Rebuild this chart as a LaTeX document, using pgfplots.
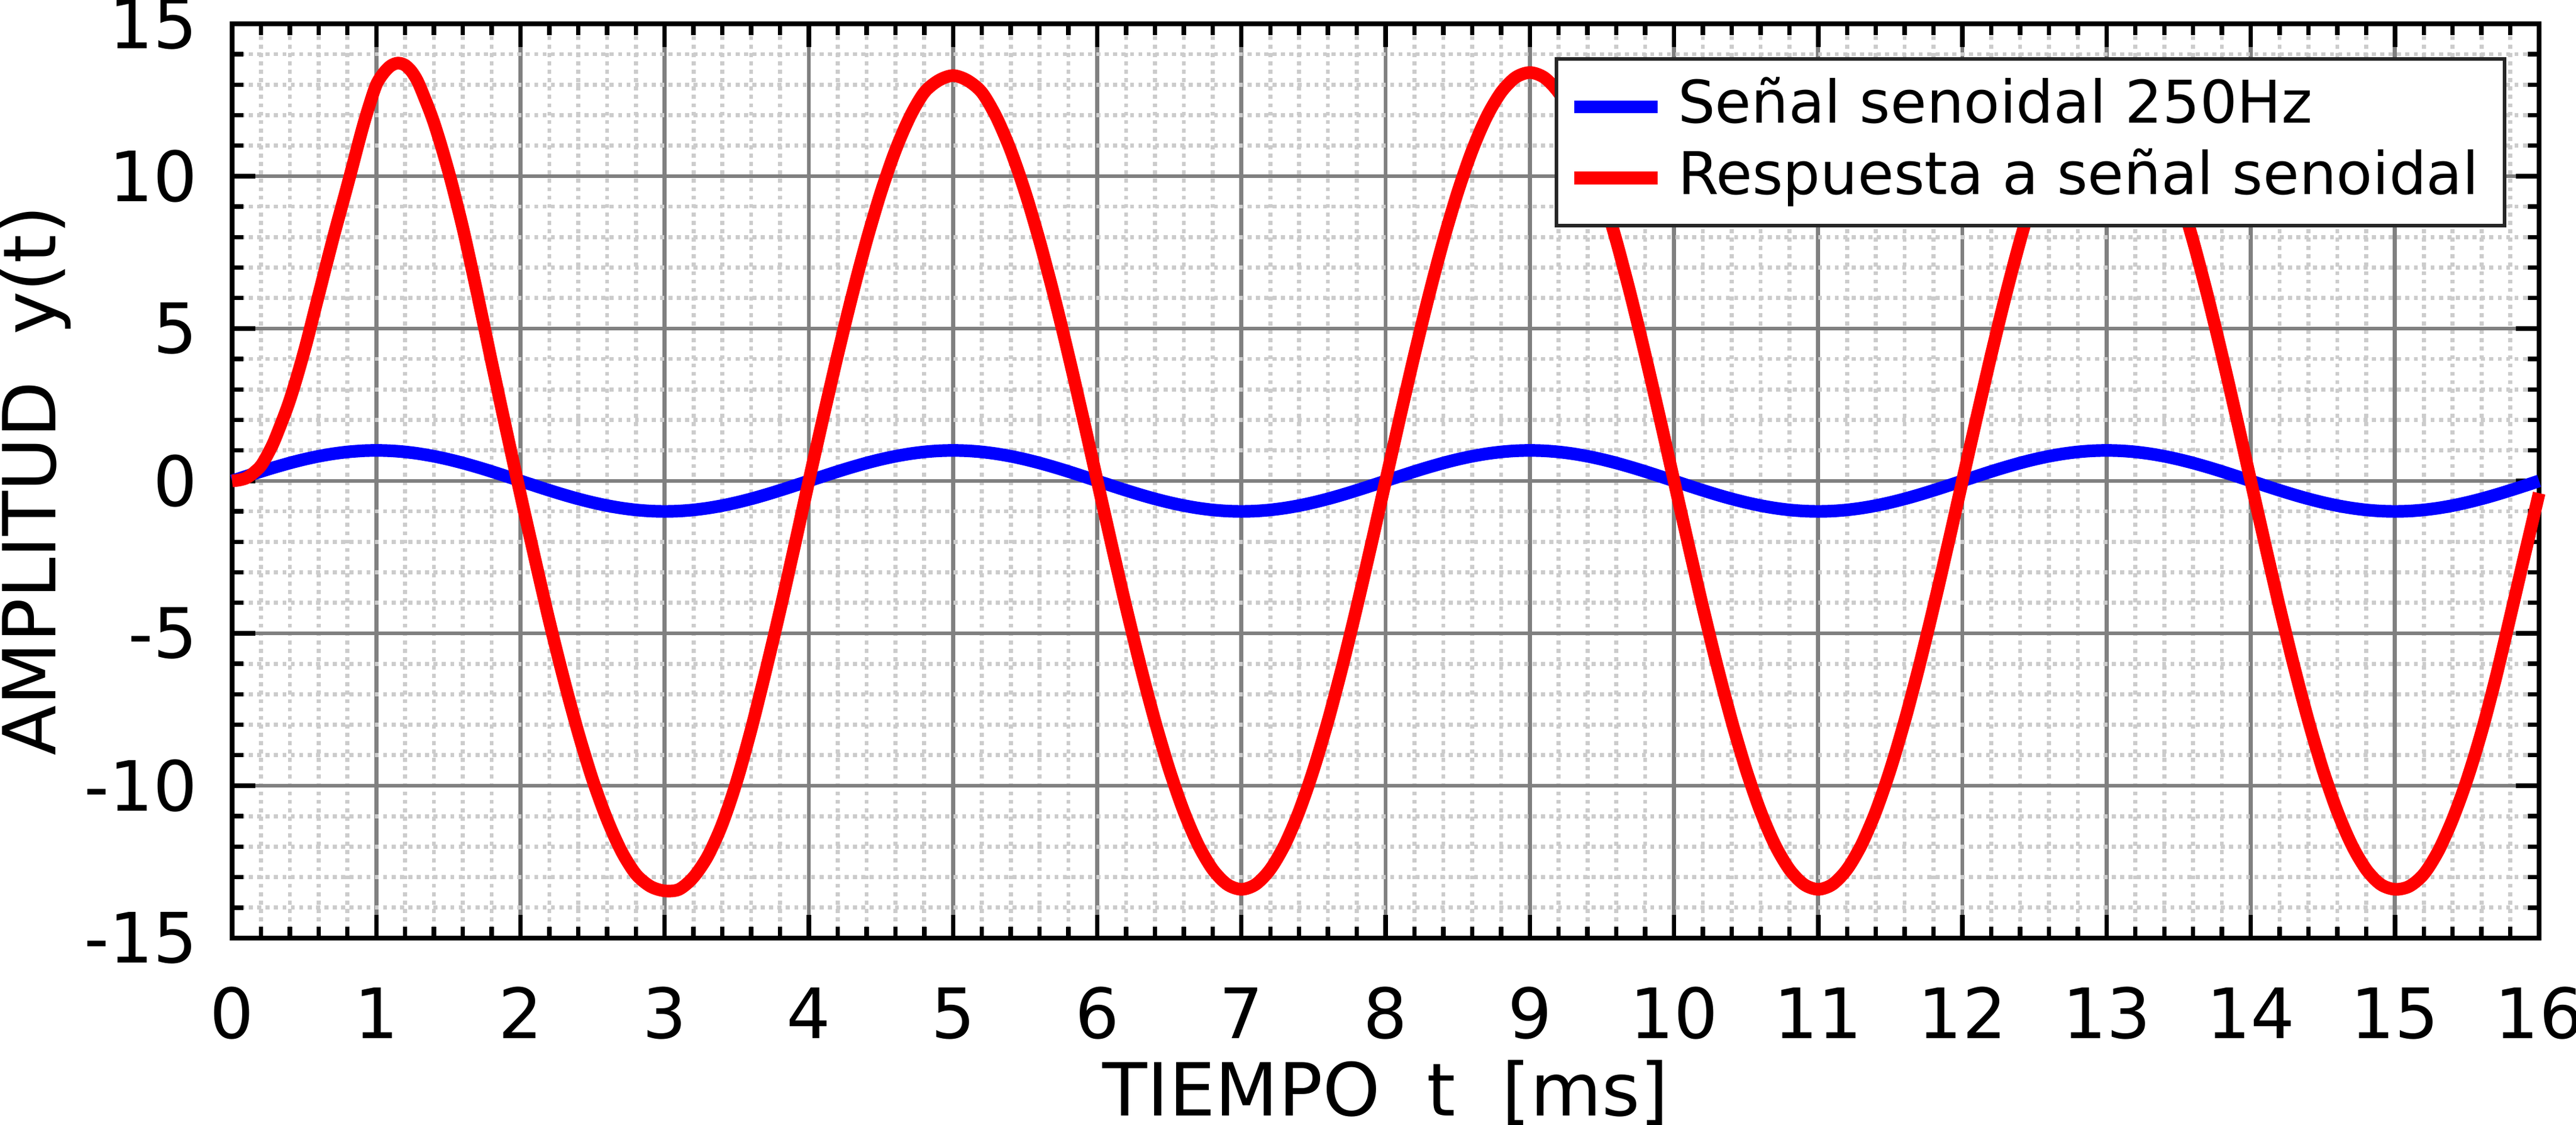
\documentclass[border=0pt]{standalone}
\usepackage{pgfplots}
\pgfplotsset{compat=1.18}
\usepackage{pgfplotstable}
\usepackage{fontspec}
\setmainfont{DejaVu Sans}

\pgfplotstableread{
t b r
0.00 0 0
0.05 0.0785 0.03
0.10 0.1564 0.10
0.15 0.2334 0.27
0.20 0.3090 0.50
0.25 0.3827 0.90
0.30 0.4540 1.40
0.40 0.5878 2.65
0.50 0.7071 4.25
0.60 0.8090 6.10
0.70 0.8910 7.95
0.80 0.9511 9.70
0.90 0.9877 11.50
0.95 0.9969 12.30
1.00 1 13.00
1.05 0.9969 13.38
1.10 0.9877 13.62
1.15 0.9724 13.71
1.20 0.9511 13.64
1.25 0.9239 13.40
1.30 0.8910 12.97
1.40 0.8090 11.75
1.50 0.7071 10.17
1.60 0.5878 8.30
1.70 0.4540 6.15
1.80 0.3090 3.90
1.90 0.1564 1.70
2.00 0 -0.45
2.10 -0.1564 -2.55
2.20 -0.3090 -4.60
2.30 -0.4540 -6.50
2.40 -0.5878 -8.25
2.50 -0.7071 -9.80
2.60 -0.8090 -11.10
2.70 -0.8910 -12.15
2.80 -0.9511 -12.90
2.90 -0.9877 -13.30
3.00 -1 -13.45
3.10 -0.9877 -13.40
3.20 -0.9511 -13.00
3.30 -0.8910 -12.30
3.40 -0.8090 -11.25
3.50 -0.7071 -9.85
3.60 -0.5878 -8.15
3.70 -0.4540 -6.25
3.80 -0.3090 -4.25
3.90 -0.1564 -2.15
4.00 0 0
4.10 0.1564 2.096
4.20 0.3090 4.141
4.30 0.4540 6.083
4.40 0.5878 7.876
4.50 0.7071 9.475
4.60 0.8090 10.841
4.70 0.8910 11.940
4.80 0.9511 12.744
4.90 0.9877 13.14
5.00 1 13.30
5.10 0.9877 13.14
5.20 0.9511 12.744
5.30 0.8910 11.940
5.40 0.8090 10.841
5.50 0.7071 9.475
5.60 0.5878 7.876
5.70 0.4540 6.083
5.80 0.3090 4.141
5.90 0.1564 2.096
6.00 0 0
6.10 -0.1564 -2.096
6.20 -0.3090 -4.141
6.30 -0.4540 -6.083
6.40 -0.5878 -7.876
6.50 -0.7071 -9.475
6.60 -0.8090 -10.841
6.70 -0.8910 -11.940
6.80 -0.9511 -12.744
6.90 -0.9877 -13.235
7.00 -1 -13.40
7.10 -0.9877 -13.235
7.20 -0.9511 -12.744
7.30 -0.8910 -11.940
7.40 -0.8090 -10.841
7.50 -0.7071 -9.475
7.60 -0.5878 -7.876
7.70 -0.4540 -6.083
7.80 -0.3090 -4.141
7.90 -0.1564 -2.096
8.00 0 0
8.10 0.1564 2.096
8.20 0.3090 4.141
8.30 0.4540 6.083
8.40 0.5878 7.876
8.50 0.7071 9.475
8.60 0.8090 10.841
8.70 0.8910 11.940
8.80 0.9511 12.744
8.90 0.9877 13.235
9.00 1 13.40
9.10 0.9877 13.235
9.20 0.9511 12.744
9.30 0.8910 11.940
9.40 0.8090 10.841
9.50 0.7071 9.475
9.60 0.5878 7.876
9.70 0.4540 6.083
9.80 0.3090 4.141
9.90 0.1564 2.096
10.00 0 0
10.10 -0.1564 -2.096
10.20 -0.3090 -4.141
10.30 -0.4540 -6.083
10.40 -0.5878 -7.876
10.50 -0.7071 -9.475
10.60 -0.8090 -10.841
10.70 -0.8910 -11.940
10.80 -0.9511 -12.744
10.90 -0.9877 -13.235
11.00 -1 -13.40
11.10 -0.9877 -13.235
11.20 -0.9511 -12.744
11.30 -0.8910 -11.940
11.40 -0.8090 -10.841
11.50 -0.7071 -9.475
11.60 -0.5878 -7.876
11.70 -0.4540 -6.083
11.80 -0.3090 -4.141
11.90 -0.1564 -2.096
12.00 0 0
12.10 0.1564 2.096
12.20 0.3090 4.141
12.30 0.4540 6.083
12.40 0.5878 7.876
12.50 0.7071 9.475
12.60 0.8090 10.841
12.70 0.8910 11.940
12.80 0.9511 12.744
12.90 0.9877 13.235
13.00 1 13.40
13.10 0.9877 13.235
13.20 0.9511 12.744
13.30 0.8910 11.940
13.40 0.8090 10.841
13.50 0.7071 9.475
13.60 0.5878 7.876
13.70 0.4540 6.083
13.80 0.3090 4.141
13.90 0.1564 2.096
14.00 0 0
14.10 -0.1564 -2.096
14.20 -0.3090 -4.141
14.30 -0.4540 -6.083
14.40 -0.5878 -7.876
14.50 -0.7071 -9.475
14.60 -0.8090 -10.841
14.70 -0.8910 -11.940
14.80 -0.9511 -12.744
14.90 -0.9877 -13.235
15.00 -1 -13.40
15.10 -0.9877 -13.30
15.20 -0.9511 -12.90
15.30 -0.8910 -12.15
15.40 -0.8090 -11.10
15.50 -0.7071 -9.80
15.60 -0.5878 -8.25
15.70 -0.4540 -6.45
15.80 -0.3090 -4.45
15.90 -0.1564 -2.42
16.00 0 -0.40
}\datatable

\begin{document}
\begin{tikzpicture}
\useasboundingbox (-36.79pt,-29.62pt) rectangle (371.51pt,148.68pt);
\begin{axis}[
  at={(0,0)}, anchor=south west,
  scale only axis, width=365.66pt, height=144.91pt,
  xmin=0, xmax=16, ymin=-15, ymax=15,
  xtick={0,1,...,16}, ytick={-15,-10,...,15},
  minor x tick num=4, minor y tick num=4,
  xtick pos=both, ytick pos=both,
  xticklabel pos=lower, yticklabel pos=left,
  tick align=inside,
  major tick length=3.7pt, minor tick length=1.8pt,
  every tick/.append style={black, line width=0.7pt},
  axis line style={black, line width=0.7pt},
  grid=both,
  major grid style={line width=0.63pt, draw=black!50},
  minor grid style={line width=0.63pt, draw=black!20, dash pattern=on 0.63pt off 0.7pt},
  /pgf/number format/assume math mode=true,
  ticklabel style={font=\fontsize{11}{13}\selectfont},
  xticklabel style={anchor=base, yshift=-15.9pt},
  yticklabel style={inner sep=0pt, xshift=-5.3pt},
  label style={font=\fontsize{11.6}{14}\selectfont},
  xlabel={TIEMPO~~t~~[ms]},
  ylabel={AMPLITUD~~y(t)},
  xlabel style={at={([yshift=-28.2pt]axis description cs:0.5,0)}, anchor=base},
  ylabel style={at={([xshift=-28pt]axis description cs:0,0.5)}, anchor=base},
  clip=false,
  legend cell align=left,
  legend style={at={(1,1)}, anchor=north east, xshift=-5.2pt, yshift=-5.3pt,
    draw=black!85, line width=0.6pt, fill=white,
    font=\fontsize{9.33}{11}\selectfont,
    inner xsep=1.8pt, inner ysep=1.9pt, row sep=0pt,
    nodes={inner xsep=2.25pt, inner ysep=0.9pt, text height=7.3pt, text depth=2.2pt}},
  legend image code/.code={\draw[#1, line width=2pt] (0pt,0pt) -- (13.2pt,0pt);},
]
\addplot[blue, line width=2pt, line join=round, smooth] table[x=t, y=b] {\datatable};
\addlegendentry{Señal senoidal 250Hz}
\addplot[red, line width=2pt, line join=round, smooth] table[x=t, y=r] {\datatable};
\addlegendentry{Respuesta a señal senoidal}
\end{axis}
\end{tikzpicture}
\end{document}
